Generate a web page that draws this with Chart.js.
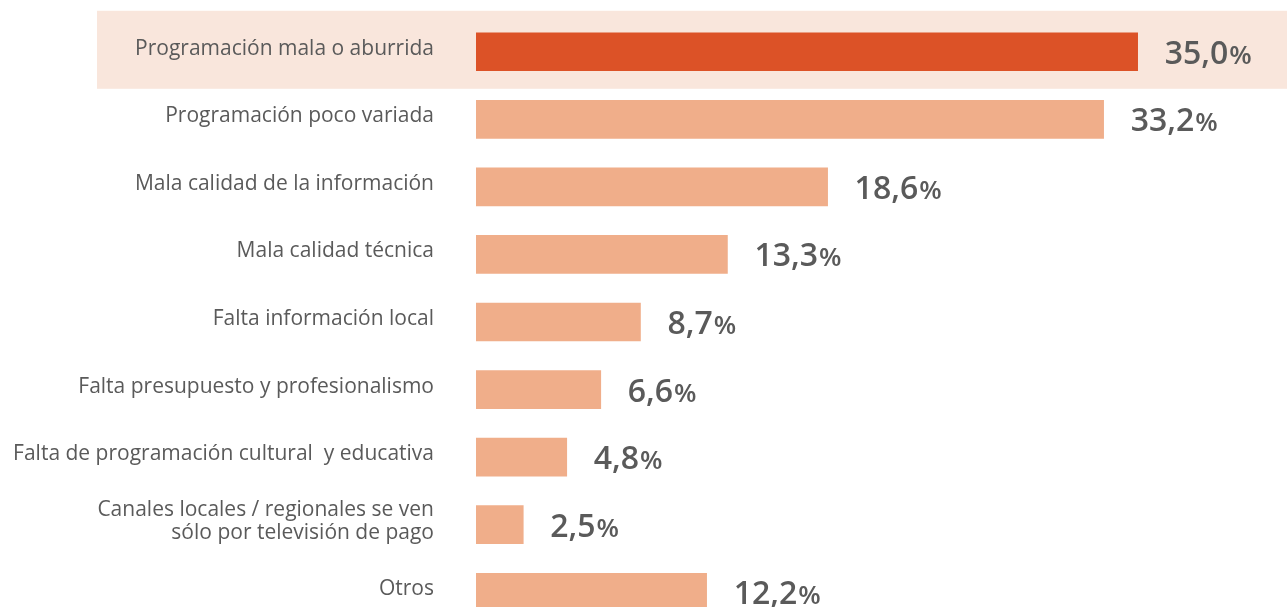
<!DOCTYPE html>
<html><head><meta charset="utf-8">
<script src="https://cdn.jsdelivr.net/npm/chart.js@4"></script>
<style>html,body{margin:0;padding:0;overflow:hidden;background:#fff}#wrap{width:1287px;height:626px;position:relative}</style>
</head><body><div id="wrap"><canvas id="c"></canvas></div>
<script>
const categories = [
  'Programación mala o aburrida',
  'Programación poco variada',
  'Mala calidad de la información',
  'Mala calidad técnica',
  'Falta información local',
  'Falta presupuesto y profesionalismo',
  'Falta de programación cultural  y educativa',
  ['Canales locales / regionales se ven', 'sólo por televisión de pago'],
  'Otros'
];
const values = [35.0, 33.2, 18.6, 13.3, 8.7, 6.6, 4.8, 2.5, 12.2];
const highlightIndex = 0;

const TEXT = '#5a5a5a';
const barColors = values.map((v, i) => i === highlightIndex ? '#dc5227' : '#f0ae8a');

const bandPlugin = {
  id: 'band',
  beforeDraw(chart) {
    const ctx = chart.ctx, y = chart.scales.y.getPixelForValue(highlightIndex);
    ctx.save();
    ctx.fillStyle = '#f9e6dc';
    ctx.fillRect(97, y - 41, chart.width - 97, 78);
    ctx.restore();
  }
};
const valuePlugin = {
  id: 'vals',
  afterDatasetsDraw(chart) {
    const ctx = chart.ctx;
    const meta = chart.getDatasetMeta(0);
    ctx.save();
    ctx.fillStyle = TEXT;
    ctx.textBaseline = 'alphabetic';
    ctx.textAlign = 'left';
    meta.data.forEach((bar, i) => {
      const num = values[i].toFixed(1).replace('.', ',');
      const x = bar.x + 27, y = bar.y + 12;
      ctx.font = '600 32px "Open Sans"';
      ctx.fillText(num, x, y);
      const w = ctx.measureText(num).width;
      ctx.font = '600 26px "Open Sans"';
      ctx.fillText('%', x + w + 1, y);
    });
    ctx.restore();
  }
};

new Chart(document.getElementById('c'), {
  type: 'bar',
  data: {
    labels: categories,
    datasets: [{ data: values, backgroundColor: barColors, barThickness: 38, borderWidth: 0 }]
  },
  options: {
    indexAxis: 'y',
    responsive: true,
    maintainAspectRatio: false,
    animation: false,
    layout: { padding: { top: 18, left: 0, right: 0, bottom: 0 } },
    plugins: { legend: { display: false }, tooltip: { enabled: false } },
    scales: {
      x: { display: false, min: 0, max: 42.9 },
      y: {
        grid: { display: false, drawTicks: false },
        border: { display: false },
        ticks: { color: TEXT, padding: 42, labelOffset: -3, font: { family: '"Open Sans"', size: 21, lineHeight: 1.1 } },
        afterFit(scale) { scale.width = 476; scale.paddingTop = 0; scale.paddingBottom = 0; }
      }
    }
  },
  plugins: [bandPlugin, valuePlugin]
});
</script></body></html>
